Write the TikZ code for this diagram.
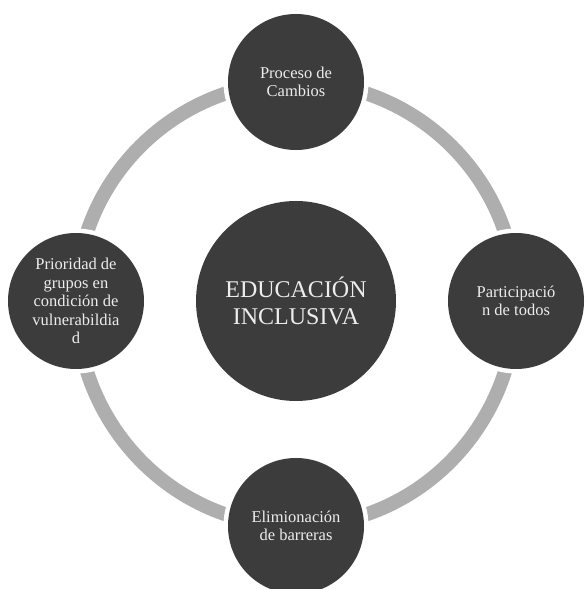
\documentclass[tikz,border=0pt]{standalone}
\usepackage{fontspec}
\setmainfont{Liberation Serif}
\usetikzlibrary{backgrounds,calc}
\definecolor{darkc}{HTML}{3C3C3C}
\definecolor{ringgray}{HTML}{AEAEAE}
\definecolor{textc}{HTML}{EDEDED}
\begin{document}
\begin{tikzpicture}[x=1pt,y=1pt,
  sat/.style={circle, fill=darkc, minimum size=136pt, inner sep=0pt,
    text=textc, font=\fontsize{16.5}{18.5}\selectfont, align=center,
    preaction={draw=white, line width=9pt}},
  hub/.style={circle, fill=darkc, minimum size=200pt, inner sep=0pt,
    text=textc, font=\fontsize{24}{27.5}\selectfont, align=center},
  ringc/.style={draw=ringgray, line width=14pt}]
\useasboundingbox (0,0) rectangle (586,589);
\coordinate (o) at (296,288);
\node[hub] (c) at (o) {EDUCACIÓN\\INCLUSIVA};
\node[sat] (t) at ($(o)+(0,219)$) {Proceso de\\Cambios};
\node[sat] (r) at ($(o)+(220,0)$) {Participació\\n de todos};
\node[sat] (b) at ($(o)+(0,-225)$) {Elimionación\\de barreras};
\node[sat] (l) at ($(o)+(-220,0)$) {Prioridad de\\grupos en\\condición de\\vulnerabildia\\d};
\begin{scope}[on background layer]
\fill[white] (0,0) rectangle (586,589);
\draw[ringc] (t.center) to[out=0,in=90] (r.center);
\draw[ringc] (r.center) to[out=-90,in=0] (b.center);
\draw[ringc] (b.center) to[out=180,in=-90] (l.center);
\draw[ringc] (l.center) to[out=90,in=180] (t.center);
\end{scope}
\end{tikzpicture}
\end{document}
